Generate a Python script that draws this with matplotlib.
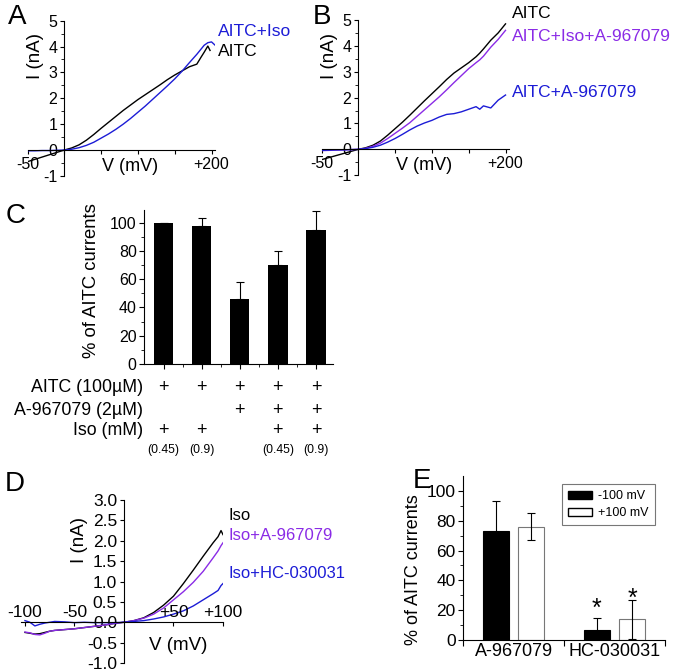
import matplotlib
matplotlib.use('Agg')
import matplotlib.pyplot as plt
import matplotlib.patches as mpatches
import numpy as np

plt.rcParams['font.family'] = ['Liberation Sans', 'DejaVu Sans']
plt.rcParams['axes.unicode_minus'] = False

BLUE = '#1c1cd6'
PURPLE = '#8a2be6'

# ---- panel A: AITC vs AITC+Iso (I-V, nA vs mV)
a_v_aitc = [-50, -40, -30, -20, -10, 0, 10, 20, 30, 40, 50, 60, 70, 80, 90, 100,
            110, 120, 130, 140, 150, 160, 170, 180, 186, 190, 195, 198]
a_aitc = [-0.45, -0.36, -0.27, -0.18, -0.09, 0.0, 0.08, 0.2, 0.38, 0.6, 0.84, 1.07,
          1.3, 1.53, 1.74, 1.95, 2.14, 2.33, 2.52, 2.72, 2.9, 3.06, 3.22, 3.32,
          3.6, 3.78, 4.02, 3.85]
a_v_iso = [-50, -40, -30, -20, -10, 0, 10, 20, 30, 40, 50, 60, 70, 80, 90, 100,
           110, 120, 130, 140, 150, 160, 170, 180, 190, 195, 200, 205]
a_iso = [-0.03, -0.03, -0.02, -0.02, -0.01, 0.0, 0.03, 0.09, 0.18, 0.3, 0.46, 0.62,
         0.8, 1.0, 1.22, 1.46, 1.7, 1.96, 2.22, 2.48, 2.75, 3.05, 3.38, 3.7, 4.05,
         4.15, 4.18, 4.05]

# ---- panel B
b_v = [-50, -40, -30, -20, -10, 0, 10, 20, 30, 40, 50, 60, 70, 80, 90, 100,
       110, 120, 130, 140, 150, 160, 165, 170, 180, 190, 200]
b_aitc = [-0.4, -0.32, -0.24, -0.16, -0.08, 0.0, 0.06, 0.16, 0.32, 0.55, 0.8, 1.05,
          1.32, 1.6, 1.88, 2.15, 2.42, 2.7, 2.95, 3.15, 3.35, 3.58, 3.72, 3.88,
          4.22, 4.5, 4.85]
b_iso_a96 = [-0.05, -0.04, -0.03, -0.02, -0.01, 0.0, 0.04, 0.12, 0.24, 0.42, 0.62,
             0.82, 1.03, 1.28, 1.53, 1.78, 2.03, 2.3, 2.58, 2.85, 3.12, 3.35, 3.46,
             3.6, 3.95, 4.25, 4.6]
b_a96 = [-0.04, -0.03, -0.02, -0.02, -0.01, 0.0, 0.03, 0.08, 0.16, 0.28, 0.42, 0.58,
         0.75, 0.9, 1.02, 1.12, 1.25, 1.35, 1.38, 1.45, 1.55, 1.65, 1.55, 1.68, 1.6,
         1.9, 2.1]

# ---- panel C: % of AITC currents
c_vals = [100, 98, 46, 70, 95]
c_err = [0, 5, 12, 10, 13]
c_aitc = ['+', '+', '+', '+', '+']
c_a96 = ['', '', '+', '+', '+']
c_iso = ['+', '+', '', '+', '+']
c_iso_conc = ['(0.45)', '(0.9)', '', '(0.45)', '(0.9)']
c_rows = ['AITC (100µM)', 'A-967079 (2µM)', 'Iso (mM)']

# ---- panel D
d_v = [-100, -95, -90, -85, -80, -75, -70, -60, -50, -40, -30, -20, -10, 0,
       10, 20, 30, 40, 50, 60, 70, 80, 90, 95, 98, 100]
d_iso = [-0.25, -0.27, -0.29, -0.28, -0.25, -0.22, -0.2, -0.18, -0.16, -0.13, -0.1,
         -0.07, -0.03, 0.0, 0.04, 0.11, 0.24, 0.42, 0.64, 0.95, 1.28, 1.62, 1.95,
         2.1, 2.25, 2.15]
d_iso_a96 = [-0.24, -0.26, -0.3, -0.31, -0.27, -0.22, -0.2, -0.18, -0.16, -0.13,
             -0.1, -0.07, -0.03, 0.0, 0.04, 0.1, 0.2, 0.35, 0.55, 0.75, 0.98, 1.25,
             1.58, 1.75, 1.88, 1.95]
d_iso_hc = [0.04, 0.0, -0.09, -0.05, -0.02, 0.0, 0.02, 0.01, -0.01, 0.0, -0.01,
            -0.01, -0.01, 0.0, 0.02, 0.04, 0.08, 0.13, 0.2, 0.28, 0.4, 0.55, 0.7,
            0.78, 0.9, 0.95]

# ---- panel E
e_groups = ['A-967079', 'HC-030031']
e_neg = [73, 7]
e_neg_err = [20, 8]
e_pos = [76, 14]
e_pos_err = [9, 13]
e_series = ['-100 mV', '+100 mV']

W, H = 677, 671
fig = plt.figure(figsize=(W / 100, H / 100), dpi=100)


def px_axes(x0, y0, x1, y1):
    return fig.add_axes([x0 / W, 1 - y1 / H, (x1 - x0) / W, (y1 - y0) / H])


def ftext(x, y, s, **kw):
    # place text at pixel position (from top-left)
    return fig.text(x / W, 1 - y / H, s, **kw)


def cross_axes(ax):
    for s in ['top', 'right']:
        ax.spines[s].set_visible(False)
    ax.spines['left'].set_position(('data', 0))
    ax.spines['bottom'].set_position(('data', 0))
    for s in ['left', 'bottom']:
        ax.spines[s].set_linewidth(0.8)
    ax.patch.set_alpha(0)


def iv_ticks(ax):
    ax.set_xlim(-50, 205)
    ax.set_ylim(-1, 5)
    ax.set_yticks(range(-1, 6))
    ax.set_yticks(np.arange(-0.5, 5, 1), minor=True)
    ax.set_xticks([-50, 0, 50, 100, 150, 200])
    ax.set_xticklabels(['-50', '', '', '', '', '+200'])
    ax.tick_params(labelsize=11.5, length=3, width=0.8, pad=2)
    ax.tick_params(which='minor', length=2, width=0.6)
    ax.text(89, -0.62, 'V (mV)', fontsize=13, ha='center', va='center')


# ---------------- A
ax = px_axes(27.5, 20.7, 215.2, 175.9)
cross_axes(ax)
ax.plot(a_v_aitc, a_aitc, color='black', lw=1.0)
ax.plot(a_v_iso, a_iso, color=BLUE, lw=1.0)
iv_ticks(ax)
ftext(36, 56, 'I (nA)', rotation=90, fontsize=13.5, ha='center', va='center')
ftext(218, 31, 'AITC+Iso', color=BLUE, fontsize=12.5, va='center')
ftext(218, 52, 'AITC', color='black', fontsize=12.5, va='center')
ftext(17, 17, 'A', fontsize=20, ha='center', va='center')

# ---------------- B
ax = px_axes(321.5, 20, 509.2, 175.2)
cross_axes(ax)
ax.plot(b_v, b_aitc, color='black', lw=1.0)
ax.plot(b_v, b_iso_a96, color=PURPLE, lw=1.0)
ax.plot(b_v, b_a96, color=BLUE, lw=1.0)
iv_ticks(ax)
ftext(330, 56, 'I (nA)', rotation=90, fontsize=13.5, ha='center', va='center')
ftext(511.7, 13.3, 'AITC', color='black', fontsize=12.5, va='center')
ftext(511.7, 36.7, 'AITC+Iso+A-967079', color=PURPLE, fontsize=12.5, va='center')
ftext(511.7, 92.5, 'AITC+A-967079', color=BLUE, fontsize=12.5, va='center')
ftext(322, 17, 'B', fontsize=20, ha='center', va='center')

# ---------------- C
ax = px_axes(144.3, 210, 333, 364)
c_x = np.arange(1, len(c_vals) + 1)
ax.bar(c_x, c_vals, width=0.51, color='black')
ax.errorbar(c_x, c_vals, yerr=[np.zeros(len(c_err)), c_err], fmt='none',
            ecolor='black', elinewidth=0.8, capsize=3, capthick=0.8)
for s in ['top', 'right']:
    ax.spines[s].set_visible(False)
for s in ['left', 'bottom']:
    ax.spines[s].set_linewidth(0.8)
ax.set_xlim(0.49, 5.45)
ax.set_ylim(0, 109)
ax.set_yticks(range(0, 101, 20))
ax.set_yticks(range(10, 101, 20), minor=True)
ax.set_xticks(c_x)
ax.set_xticks(c_x[:-1] + 0.5, minor=True)
ax.set_xticklabels([])
ax.tick_params(labelsize=11.5, length=3.5, width=0.8, pad=2)
ax.tick_params(which='minor', length=2, width=0.6)
ax.set_ylabel('% of AITC currents', fontsize=13.3)
ax.yaxis.set_label_coords(-0.235, 0.545)
trans = ax.get_xaxis_transform()
row_y = [-0.15, -0.305, -0.43]
for y, name, marks in zip(row_y, c_rows, [c_aitc, c_a96, c_iso]):
    ax.text(-0.005, y, name, transform=ax.transAxes, ha='right', va='center',
            fontsize=12.8)
    for xi, m in zip(c_x, marks):
        ax.text(xi, y, m, transform=trans, ha='center', va='center', fontsize=13)
for xi, s in zip(c_x, c_iso_conc):
    ax.text(xi, -0.56, s, transform=trans, ha='center', va='center', fontsize=8.7)
ftext(16, 216, 'C', fontsize=20, ha='center', va='center')

# ---------------- D
ax = px_axes(21, 500, 223, 663)
cross_axes(ax)
ax.plot(d_v, d_iso, color='black', lw=1.0)
ax.plot(d_v, d_iso_a96, color=PURPLE, lw=1.0)
ax.plot(d_v, d_iso_hc, color=BLUE, lw=1.0)
ax.set_xlim(-104, 100)
ax.set_ylim(-1, 3)
ax.set_yticks(np.arange(-1, 3.01, 0.5))
ax.set_yticklabels([f'{v:.1f}' for v in np.arange(-1, 3.01, 0.5)])
ax.set_xticks([-100, -50, 50, 100])
ax.set_xticklabels([])
ax.tick_params(labelsize=12.5, length=3, width=0.8, pad=2)
for xv, lab in zip([-100, -50, 50, 100], ['-100', '-50', '+50', '+100']):
    ax.text(xv, 0.24, lab, ha='center', va='center', fontsize=12.5)
ax.text(55, -0.57, 'V (mV)', fontsize=13.5, ha='center', va='center')
ftext(80, 540, 'I (nA)', rotation=90, fontsize=13.5, ha='center', va='center')
ftext(229, 515, 'Iso', color='black', fontsize=12, va='center')
ftext(229, 535, 'Iso+A-967079', color=PURPLE, fontsize=12, va='center')
ftext(229, 574, 'Iso+HC-030031', color=BLUE, fontsize=12, va='center')
ftext(15, 484, 'D', fontsize=20, ha='center', va='center')

# ---------------- E
ax = px_axes(463.3, 475.7, 665, 640.3)
e_x = np.arange(len(e_groups))
off = 0.175
bw = 0.26
ax.bar(e_x - off, e_neg, width=bw, color='black', edgecolor='black', lw=0.8,
       label=e_series[0])
ax.bar(e_x + off, e_pos, width=bw, color='white', edgecolor='#777777', lw=0.8,
       label=e_series[1])
ax.errorbar(e_x - off, e_neg, yerr=e_neg_err, fmt='none', ecolor='black',
            elinewidth=0.8, capsize=3, capthick=0.8)
ax.errorbar(e_x + off, e_pos, yerr=e_pos_err, fmt='none', ecolor='black',
            elinewidth=0.8, capsize=3, capthick=0.8)
# significance stars over the HC-030031 bars
ax.text(e_x[1] - off, 12.9, '*', ha='center', va='bottom', fontsize=18)
ax.text(e_x[1] + off, 19.6, '*', ha='center', va='bottom', fontsize=18)
for s in ['top', 'right']:
    ax.spines[s].set_visible(False)
for s in ['left', 'bottom']:
    ax.spines[s].set_linewidth(0.8)
ax.set_xlim(-0.5, 1.5)
ax.set_ylim(0, 110)
ax.set_yticks(range(0, 101, 20))
ax.set_yticks(range(10, 101, 20), minor=True)
ax.set_xticks(e_x)
ax.set_xticklabels(e_groups)
ax.set_xticks([-0.5, 0.5, 1.5], minor=True)
ax.tick_params(axis='x', which='major', length=0, labelsize=13, pad=2)
ax.tick_params(axis='x', which='minor', length=4, width=0.8)
ax.tick_params(axis='y', which='major', labelsize=12.5, length=3.5, width=0.8, pad=2)
ax.tick_params(axis='y', which='minor', length=2, width=0.6)
ax.set_ylabel('% of AITC currents', fontsize=13)
ax.yaxis.set_label_coords(-0.205, 0.427)
handles = [mpatches.Patch(facecolor='black', edgecolor='black', label=e_series[0]),
           mpatches.Patch(facecolor='white', edgecolor='black', label=e_series[1])]
leg = ax.legend(handles=handles, loc='upper right', bbox_to_anchor=(0.95, 0.95),
                borderaxespad=0, fontsize=9, frameon=True, fancybox=False,
                handlelength=1.9, handleheight=0.6, handletextpad=0.5,
                borderpad=0.5, labelspacing=0.4)
leg.get_frame().set_edgecolor('#555555')
leg.get_frame().set_linewidth(0.8)
ftext(422, 481, 'E', fontsize=20, ha='center', va='center')

fig.savefig('out.png', dpi=100)
